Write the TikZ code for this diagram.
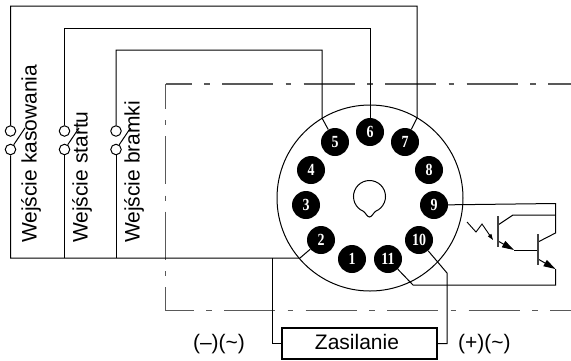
\documentclass[tikz,border=0pt]{standalone}
\usepackage{fontspec}
\setmainfont{Liberation Sans}
\newfontfamily\pinfont[BoldFeatures={FakeStretch=0.82}]{Liberation Serif}
\usetikzlibrary{arrows.meta,calc}
\tikzset{
  wire/.style={draw=black,line width=1pt,line join=miter},
  pinnode/.style={circle,fill=black,minimum size=28pt,inner sep=0pt,text=white,font=\pinfont\bfseries\fontsize{17}{17}\selectfont},
  swnode/.style={circle,draw=black,line width=1pt,fill=white,minimum size=10.5pt,inner sep=0pt},
  lab/.style={font=\fontsize{21}{21}\selectfont,inner sep=0pt,text=black},
  vlab/.style={lab,rotate=90,anchor=base west},
  dashA/.style={draw=black!65,line width=1.3pt,dash pattern=on 51pt off 12.5pt on 5.5pt off 12.5pt},
  dashB/.style={draw=black!65,line width=1.3pt,dash pattern=on 48pt off 11.5pt on 5pt off 11pt},
  tip/.style={-{Triangle[length=12pt,width=7pt]}},
}
\begin{document}
\begin{tikzpicture}[x=1pt,y=-1pt]
\useasboundingbox[fill=white] (0,0) rectangle (571,360);
% dash-dot enclosure
\coordinate (tl) at (165.5,84);
\coordinate (tr) at (571,84);
\coordinate (bl) at (165.5,310.5);
\coordinate (br) at (571,310.5);
\draw[dashA,dash phase=25pt] (tl) -- (tr);
\draw[dashA,dash phase=23pt] (bl) -- (br);
\draw[dashB,dash phase=23.5pt] (tl) -- (bl);
% socket
\node[circle,draw=black,line width=1pt,minimum size=186pt,inner sep=0pt] (socket) at (370,198) {};
\coordinate (keyc) at (369.5,196.5);
\draw[wire] ($(keyc)+(112:16)$) arc[start angle=112,end angle=428,radius=16]
  .. controls (373.5,213) and (371.5,217) .. (369.5,217)
  .. controls (367.5,217) and (365.5,213) .. cycle;
% pins
\node[pinnode] (p1) at (352,259) {1};
\node[pinnode] (p2) at (321,240) {2};
\node[pinnode] (p3) at (306,205) {3};
\node[pinnode] (p4) at (311,170) {4};
\node[pinnode] (p5) at (335,142) {5};
\node[pinnode] (p6) at (370,132) {6};
\node[pinnode] (p7) at (405,142) {7};
\node[pinnode] (p8) at (429,170) {8};
\node[pinnode] (p9) at (434,205) {9};
\node[pinnode] (p10) at (419,240) {10};
\node[pinnode] (p11) at (388,259) {11};
% switches
\node[swnode] (s1a) at (10.5,131) {};
\node[swnode] (s1b) at (10.5,149.5) {};
\node[swnode] (s2a) at (64.5,131) {};
\node[swnode] (s2b) at (64.5,149.5) {};
\node[swnode] (s3a) at (116,131) {};
\node[swnode] (s3b) at (116,149.5) {};
\coordinate (a1) at (25,128);
\coordinate (a2) at (79,128);
\coordinate (a3) at (130.5,128);
\draw[wire] (s1b) -- (a1);
\draw[wire] (s2b) -- (a2);
\draw[wire] (s3b) -- (a3);
% input wires
\coordinate (b7) at (417,118);
\coordinate (b5) at (322,118);
\draw[wire] (s1a) -- (10.5,6) -| (b7) -- (p7);
\draw[wire] (s2a) -- (64.5,28) -| (p6);
\draw[wire] (s3a) -- (116,50) -| (b5) -- (p5);
% common return
\coordinate (b2) at (300,258);
\coordinate (j2) at (272.5,258);
\draw[wire] (p2) -- (b2) -- (10.5,258) -- (s1b);
\draw[wire] (s2b) -- (64.5,258);
\draw[wire] (s3b) -- (116,258);
% supply
\node[draw=black,line width=2pt,minimum width=155pt,minimum height=31pt,inner sep=0pt] (box) at (359.5,343.5) {};
\node[lab,anchor=base] (zas) at (357,349.5) {Zasilanie};
\draw[wire] (j2) |- (box.west);
\coordinate (b10) at (447,273);
\draw[wire] (p10) -- (b10) |- (box.east);
\node[lab,anchor=base] (minus) at (219,349.5) {(–)(\textasciitilde)};
\node[lab,anchor=base west] (plus) at (458,349.5) {(+)(\textasciitilde)};
% vertical labels
\node[vlab] (l1) at (36.5,243) {Wejście kasowania};
\node[vlab] (l2) at (87.5,243) {Wejście startu};
\node[vlab] (l3) at (139.5,243) {Wejście bramki};
% output stage
\coordinate (rt) at (555.5,203.5);
\coordinate (c1) at (513,215);
\coordinate (c2) at (555.5,215);
\coordinate (c3) at (555.5,233);
\coordinate (e2) at (555.5,269);
\coordinate (rb) at (555.5,285);
\coordinate (b11) at (413,285);
\coordinate (t1b) at (498,225);
\coordinate (t1e) at (498,241);
\coordinate (em1) at (514,250);
\coordinate (t2b) at (538,242);
\coordinate (t2e) at (538,259);
\coordinate (t2m) at (538,250);
\draw[wire] (p9) -- (rt) -- (c3) -- (t2b);
\draw[wire] (t1b) -- (c1) -- (c2);
\draw[wire] (p11) -- (b11) -- (rb) -- (e2);
\draw[wire,tip] (t1e) -- (em1);
\draw[wire] (em1) -- (t2m);
\draw[wire,tip] (t2e) -- (e2);
\draw[wire,line width=1.2pt,draw=black!75] (498,216) -- (498,247);
\draw[wire,line width=1.2pt,draw=black!75] (538,234) -- (538,265);
\coordinate (z1) at (467,222);
\coordinate (z2) at (476,232);
\coordinate (z3) at (482,224);
\coordinate (z4) at (493,240);
\draw[wire,line width=0.9pt,-{Triangle[length=6pt,width=4pt]}] (z1) -- (z2) -- (z3) -- (z4);
\end{tikzpicture}
\end{document}
